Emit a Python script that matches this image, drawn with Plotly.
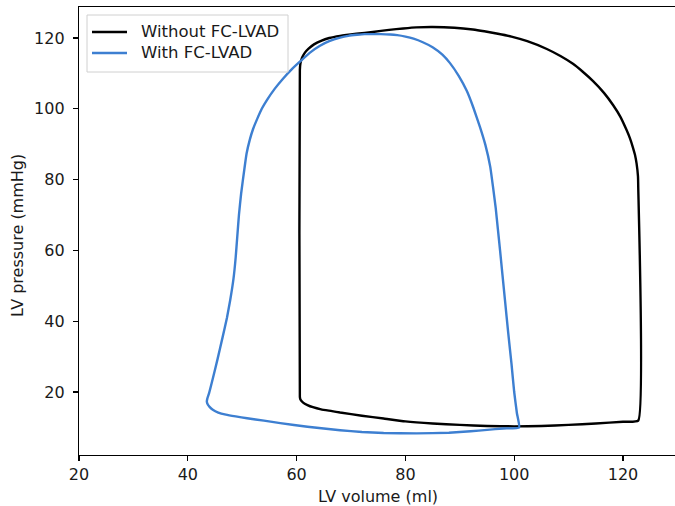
import plotly.graph_objects as go

# Without FC-LVAD loop (volume ml, pressure mmHg)
vol_without = [60.6, 60.7, 61.2, 62.0, 63.0, 64.5, 66.5, 68.0, 72.0, 76.0, 80.0, 85.0, 90.0, 95.0, 100.0, 105.0, 110.0, 115.0, 120.0, 122.8,
               122.8, 122.75, 122.5, 122.2, 121.8, 121.3, 120.6, 119.5, 118.2, 116.5, 114.5, 112.5, 110.8, 108.5, 106.0, 102.4, 99.5, 97.0,
               94.5, 92.4, 89.0, 85.0, 82.0, 79.6, 77.0, 74.0, 71.0, 68.0, 66.0, 64.5, 63.2, 62.2, 61.5, 61.0, 60.7, 60.6, 60.6]
p_without = [18.6, 17.9, 17.0, 16.3, 15.7, 15.1, 14.6, 14.2, 13.3, 12.5, 11.7, 11.1, 10.7, 10.4, 10.3, 10.4, 10.7, 11.1, 11.6, 11.9,
             78.0, 81.0, 84.5, 87.0, 89.2, 91.6, 94.2, 97.8, 101.0, 104.5, 107.8, 110.6, 112.7, 114.9, 116.9, 119.1, 120.4, 121.2,
             121.9, 122.4, 122.9, 123.1, 123.0, 122.7, 122.3, 121.7, 121.2, 120.6, 120.0, 119.2, 118.2, 117.0, 115.8, 114.4, 112.8, 111.0, 18.6]

# With FC-LVAD loop
vol_with = [100.9, 100.5, 100.0, 99.5, 98.9, 98.3, 97.4, 97.0, 96.6, 96.1, 95.6, 94.7, 93.7, 92.5, 91.3, 89.8, 88.2, 86.8, 85.0, 83.2, 81.5, 80.0,
            78.5, 77.2, 75.5, 74.0, 72.5, 71.1, 69.5, 68.0, 66.0, 64.3, 62.4, 60.6, 59.0, 57.5, 56.0, 54.6, 53.6, 52.8, 52.0, 51.4, 50.8, 50.4,
            49.8, 49.4, 49.1, 48.8, 48.4, 47.8, 47.2, 46.4, 45.5, 44.6, 43.9, 43.6, 43.5, 43.7, 44.0, 44.6, 45.6, 47.0, 48.8, 50.9, 54.0, 57.0,
            62.0, 68.0, 72.0, 76.0, 82.0, 88.0, 92.0, 95.0, 98.0, 100.9]
p_with = [10.0, 14.0, 20.0, 28.0, 36.7, 46.0, 60.0, 66.0, 72.0, 78.0, 83.6, 89.8, 94.9, 100.3, 105.0, 109.3, 112.9, 115.3, 117.4, 118.8, 119.8, 120.4,
          120.8, 121.0, 121.1, 121.1, 121.1, 120.9, 120.6, 120.1, 119.1, 117.8, 115.8, 113.3, 111.0, 108.5, 105.7, 102.6, 100.0, 97.3, 94.3, 91.3, 87.3, 83.0,
          76.0, 70.0, 64.0, 58.0, 52.0, 46.0, 41.0, 35.5, 29.5, 23.8, 19.6, 18.2, 17.3, 16.4, 15.8, 15.0, 14.2, 13.6, 13.1, 12.6, 11.9, 11.2,
          10.2, 9.2, 8.7, 8.4, 8.3, 8.5, 8.9, 9.3, 9.7, 10.0]

x_ticks = [20, 40, 60, 80, 100, 120]
y_ticks = [20, 40, 60, 80, 100, 120]
legend_names = ["Without FC-LVAD", "With FC-LVAD"]
colors = ["black", "#3d7fd1"]

TXT = "#1a1a1a"
font = dict(family="DejaVu Sans", size=16, color=TXT)

FIG_H = 506
# plot area in window pixels: left 79, top 7, runs a little past the right edge, bottom 455
L, T = 79, 7
W = 604
H = 455 - T
FIG_W = L + W
B = FIG_H - T - H

def px(x):  # window pixel -> paper fraction
    return (x - L) / W
def py(y):
    return 1 - (y - T) / H

x_right = 20 + W / 5.44
y_top = 20 + (392 - T) / 3.54
y_bot = 20 - (455 - 392) / 3.54

fig = go.Figure()
fig.add_trace(go.Scatter(x=vol_without, y=p_without, mode="lines", name=legend_names[0],
                         line=dict(color=colors[0], width=2.4, shape="spline", smoothing=0.4), showlegend=False))
fig.add_trace(go.Scatter(x=vol_with, y=p_with, mode="lines", name=legend_names[1],
                         line=dict(color=colors[1], width=2.4, shape="spline", smoothing=0.4), showlegend=False))

shapes = [dict(type="rect", xref="paper", yref="paper", x0=px(87), x1=px(288), y0=py(72), y1=py(15),
               line=dict(color="#d0d0d0", width=1), fillcolor="rgba(255,255,255,0.8)", layer="above")]
annotations = []
for i, (name, c) in enumerate(zip(legend_names, colors)):
    yy = 32 + i * 21
    shapes.append(dict(type="line", xref="paper", yref="paper", x0=px(92), x1=px(127), y0=py(yy), y1=py(yy),
                       line=dict(color=c, width=2.4), layer="above"))
    annotations.append(dict(xref="paper", yref="paper", x=px(139), y=py(yy), text=name, showarrow=False,
                            xanchor="left", yanchor="middle", font=dict(family="DejaVu Sans", size=16.5, color=TXT)))

annotations.append(dict(xref="paper", yref="paper", x=px(378), y=py(496), text="LV volume (ml)", showarrow=False,
                        xanchor="center", yanchor="middle", font=font))
annotations.append(dict(xref="paper", yref="paper", x=px(17), y=py(236), text="LV pressure (mmHg)", showarrow=False,
                        xanchor="center", yanchor="middle", textangle=-90, font=font))

fig.update_layout(
    width=FIG_W, height=FIG_H,
    margin=dict(l=L, r=0, t=T, b=B, pad=0, autoexpand=False),
    paper_bgcolor="white", plot_bgcolor="white",
    font=font,
    showlegend=False,
    shapes=shapes, annotations=annotations,
    xaxis=dict(range=[20, x_right], tickvals=x_ticks, showgrid=False, zeroline=False, automargin=False,
               showline=True, linecolor="black", linewidth=1.2, mirror=True,
               ticks="outside", ticklen=5, tickwidth=1.2, tickcolor="black", tickfont=font),
    yaxis=dict(range=[y_bot, y_top], tickvals=y_ticks, showgrid=False, zeroline=False, automargin=False,
               showline=True, linecolor="black", linewidth=1.2, mirror=False,
               ticks="outside", ticklen=5, tickwidth=1.2, tickcolor="black", tickfont=font,
               ticklabelstandoff=5),
)

fig.write_html("out.html",
               config={"displayModeBar": False, "staticPlot": True},
               post_script="document.documentElement.style.overflow='hidden';"
                           "document.body.style.overflow='hidden';document.body.style.margin='0';")
